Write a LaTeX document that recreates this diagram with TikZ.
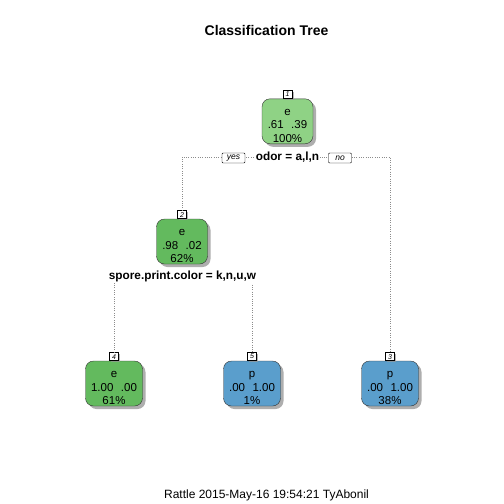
\documentclass[tikz,border=0pt]{standalone}
\usepackage{fontspec}
\setmainfont{Liberation Sans}
\usetikzlibrary{positioning,shadows}
\definecolor{rootgreen}{RGB}{143,210,133}
\definecolor{midgreen}{RGB}{99,186,94}
\definecolor{leafblue}{RGB}{90,158,204}
\newcommand{\topgap}{\rule{0pt}{15.5pt}}
\newcommand{\gap}{\hspace{7.5pt}}
\begin{document}
\begin{tikzpicture}[x=1pt,y=-1pt,
    main/.style={draw=black!80,rounded corners=8pt,minimum width=51pt,minimum height=45pt,inner sep=0pt,align=center,
        font=\fontsize{11.5}{13.4}\selectfont,drop shadow={shadow xshift=3pt,shadow yshift=-3pt,fill=black!45,opacity=0.7}},
    leaf/.style={main,minimum width=57pt},
    numbox/.style={draw,fill=white,inner sep=0pt,minimum width=9pt,minimum height=8pt,font=\fontsize{7}{7}\itshape,
        drop shadow={shadow xshift=1.5pt,shadow yshift=-1.5pt,fill=black!40,opacity=0.7}},
    splitlab/.style={fill=white,inner sep=1pt,font=\fontsize{11.8}{12}\bfseries},
    yesno/.style={draw,fill=white,rounded corners=1pt,inner sep=0pt,minimum width=23pt,minimum height=10pt,font=\fontsize{8.5}{8.5}\itshape},
    branch/.style={draw=black!45,dash pattern=on 0.7pt off 1.6pt,line width=0.55pt}]
    \useasboundingbox (0,0) rectangle (504,504);

    \node[font=\fontsize{14}{14}\bfseries] (title) at (266.5,30) {Classification Tree};

    \node[main, fill=rootgreen, label={[numbox,name=l1]above:1}] (n1) at (287.5,121.3) {\topgap e\\.61\gap.39\\100\%};
    \node[main, fill=midgreen, label={[numbox,name=l2]above:2}] (n2) at (182,241.5) {\topgap e\\.98\gap.02\\62\%};

    \node[leaf, fill=midgreen, label={[numbox,name=l4]above:4}] (n4) at (114,383.5) {\topgap e\\1.00\gap.00\\61\%};
    \node[leaf, fill=leafblue, label={[numbox,name=l5]above:5}] (n5) at (252,383.5) {\topgap p\\.00\gap1.00\\1\%};
    \node[leaf, fill=leafblue, label={[numbox,name=l3]above:3}] (n3) at (390,383.5) {\topgap p\\.00\gap1.00\\38\%};

    \coordinate (s1) at (287.5,157);
    \coordinate (s2) at (182.5,276);

    \draw[branch](l2.north) |- (s1) -| (l3.north);
    \draw[branch](l4.north) |- (s2) -| (l5.north);

    \node[splitlab] (split1) at (s1) {odor = a,l,n};
    \node[yesno] (yes) at (233.5,158) {yes};
    \node[yesno] (no) at (340,158) {no};
    \node[splitlab] (split2) at (s2) {spore.print.color = k,n,u,w};

    \node[font=\fontsize{12}{12}\selectfont] (footer) at (266.5,495) {Rattle 2015-May-16 19:54:21 TyAbonil};
\end{tikzpicture}
\end{document}
